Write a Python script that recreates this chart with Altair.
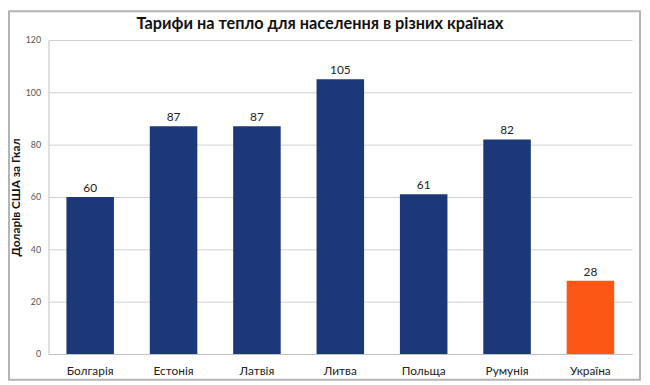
import altair as alt
import pandas as pd

countries = ["Болгарія", "Естонія", "Латвія", "Литва", "Польща", "Румунія", "Україна"]
values = [60, 87, 87, 105, 61, 82, 28]
colors = ["#1c3878", "#1c3878", "#1c3878", "#1c3878", "#1c3878", "#1c3878", "#fd5716"]
title_text = ["Тарифи на тепло для населення в різних країнах"]

df = pd.DataFrame({"country": countries, "value": values, "color": colors})

x = alt.X("country:N", sort=countries, title=None,
          scale=alt.Scale(paddingInner=0.43, paddingOuter=0.215),
          axis=alt.Axis(labelAngle=0, labelFont="Lato", labelFontSize=12, labelColor="#222",
                        ticks=False, domainColor="#c0c0c0", labelPadding=12))
y = alt.Y("value:Q", title="Доларів США за Гкал",
          scale=alt.Scale(domain=[0, 120]),
          axis=alt.Axis(values=[0, 20, 40, 60, 80, 100, 120], labelFont="Lato", labelFontSize=9,
                        labelColor="#555", ticks=False, domainColor="#c0c0c0", gridColor="#cfcfcf",
                        labelPadding=8, titleFont="Lato", titleFontSize=12, titleFontWeight="bold",
                        titleColor="#111", titleX=-26, titleY=159, titleAngle=270,
                        titleAlign="center", titleBaseline="bottom"))

bars = alt.Chart(df).mark_bar().encode(x=x, y=y, color=alt.Color("color:N", scale=None))
text = alt.Chart(df).mark_text(dy=-9, font="Lato", fontSize=12, color="#222").encode(
    x=alt.X("country:N", sort=countries), y="value:Q", text="value:Q")

frame = alt.Chart(pd.DataFrame({"f": [0]})).mark_rect(
    fillOpacity=0, stroke="#b4b4b4", strokeWidth=2).encode(
    x=alt.value(-40), x2=alt.value(599), y=alt.value(-29), y2=alt.value(344))

title = alt.Chart(pd.DataFrame({"t": title_text})).mark_text(
    font="Lato", fontSize=16.5, fontWeight="bold", color="#111", align="center",
    baseline="middle").encode(x=alt.value(275), y=alt.value(-16), text="t:N")

chart = (frame + bars + text + title).properties(
    width=591, height=318,
    autosize=alt.AutoSizeParams(type="none"),
    padding={"left": 41, "top": 30, "right": 10, "bottom": 27},
).configure_view(stroke=None)

chart.save("out.html", embed_options={"renderer": "svg", "actions": False})
